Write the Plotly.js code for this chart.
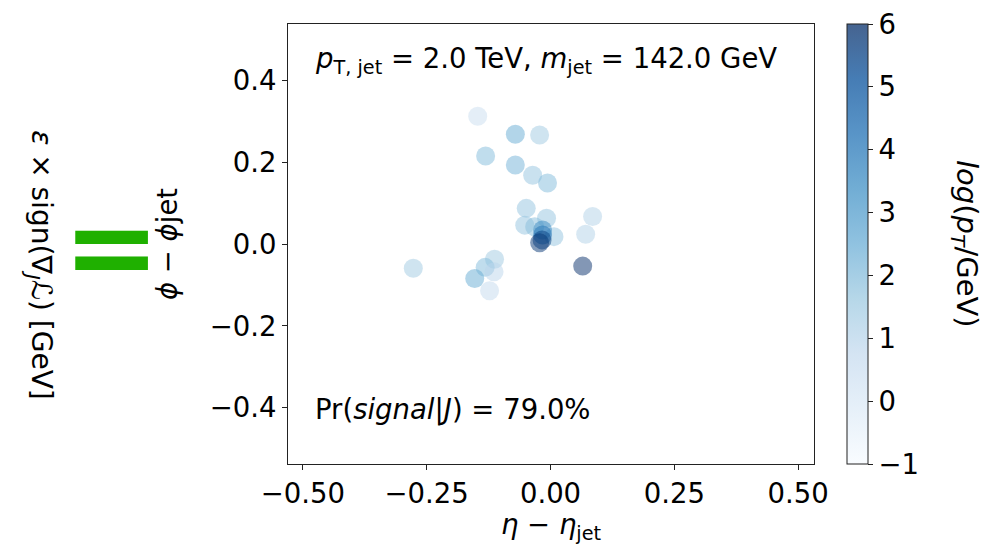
<!DOCTYPE html>
<html>
<head>
<meta charset="utf-8">
<script src="https://cdn.plot.ly/plotly-3.0.1.min.js"></script>
<style>html,body{margin:0;padding:0;background:#fff;}#chart{width:993px;height:545px;}</style>
</head>
<body>
<div id="chart"></div>
<script>
// Constituent positions relative to jet axis and their log(pT/GeV)
const etaRel = [-0.147, -0.071, -0.022, -0.131, -0.071, -0.036, -0.006, -0.049, 0.085, -0.008, -0.052, -0.032, 0.071, 0.007, -0.016, -0.016, -0.017, -0.022, 0.065, -0.277, -0.113, -0.132, -0.114, -0.153, -0.123];
const phiRel = [0.312, 0.268, 0.266, 0.215, 0.193, 0.168, 0.149, 0.087, 0.067, 0.063, 0.046, 0.042, 0.024, 0.018, 0.034, 0.022, 0.010, 0.003, -0.054, -0.059, -0.037, -0.057, -0.068, -0.084, -0.114];
const logPt  = [0.6, 2.6, 1.6, 2.1, 2.4, 1.8, 2.1, 1.8, 1.2, 1.8, 1.8, 2.0, 1.2, 1.8, 3.6, 4.2, 5.6, 5.8, 6.0, 1.6, 1.6, 2.1, 1.0, 2.6, 0.8];
const xTicks = [-0.5, -0.25, 0, 0.25, 0.5];
const yTicks = [-0.4, -0.2, 0, 0.2, 0.4];
const cbTicks = [-1, 0, 1, 2, 3, 4, 5, 6];

const blues = ['#f7fbff','#deebf7','#c6dbef','#9ecae1','#6baed6','#4292c6','#2171b5','#08519c','#08306b'];
function hexA(h, a){const r=parseInt(h.slice(1,3),16),g=parseInt(h.slice(3,5),16),b=parseInt(h.slice(5,7),16);return `rgba(${r},${g},${b},${a})`;}
function scale(a){return blues.map((c,i)=>[i/(blues.length-1), hexA(c,a)]);}

const FONT = 'DejaVu Sans, Liberation Sans, sans-serif';
const FS = 27.5;
const dark = '#222';

const traces = [
  {
    type: 'scatter', mode: 'markers', x: etaRel, y: phiRel,
    marker: {size: 19, color: logPt, cmin: -1, cmax: 6, colorscale: scale(0.5), showscale: false, line: {width: 0}},
    hoverinfo: 'x+y', showlegend: false
  },
  {
    type: 'scatter', mode: 'markers', x: [null], y: [null],
    marker: {size: 1, color: [0], cmin: -1, cmax: 6, colorscale: scale(0.75), showscale: true,
      colorbar: {x: 1.0627, xanchor: 'left', xpad: 0, ypad: 0, y: 0.5, yanchor: 'middle', len: 1, lenmode: 'fraction',
        thickness: 21, outlinewidth: 1, outlinecolor: dark, ticks: 'outside', ticklen: 5, tickwidth: 1, tickcolor: dark,
        tickvals: cbTicks, tickfont: {family: FONT, size: FS, color: '#000'}}},
    hoverinfo: 'skip', showlegend: false
  }
];

const layout = {
  width: 993, height: 545,
  margin: {l: 288, r: 179, t: 24, b: 81},
  paper_bgcolor: '#fff', plot_bgcolor: '#fff',
  font: {family: FONT, size: FS, color: '#000'},
  xaxis: {range: [-0.53, 0.532], tickvals: xTicks, tickformat: '.2f', ticks: 'outside', ticklen: 5, tickwidth: 1, tickcolor: dark,
    showgrid: false, zeroline: false, showline: true, linecolor: dark, linewidth: 1, mirror: true,
    tickfont: {family: FONT, size: FS},
    title: {text: '<i>η</i> − <i>η</i><sub>jet</sub>', font: {family: FONT, size: FS}, standoff: 3}},
  yaxis: {range: [-0.537, 0.537], tickvals: yTicks, tickformat: '.1f', ticks: 'outside', ticklen: 5, tickwidth: 1, tickcolor: dark,
    showgrid: false, zeroline: false, showline: true, linecolor: dark, linewidth: 1, mirror: true,
    tickfont: {family: FONT, size: FS},
    title: {text: '<i>ϕ</i> − <i>ϕ</i>jet', font: {family: FONT, size: FS}, standoff: 24}},
  annotations: [
    {xref: 'paper', yref: 'paper', x: 0.0475, y: 0.918, xanchor: 'left', yanchor: 'middle', showarrow: false,
      text: '<i>p</i><sub>T, jet</sub> = 2.0 TeV, <i>m</i><sub>jet</sub> = 142.0 GeV', font: {family: FONT, size: FS}},
    {xref: 'paper', yref: 'paper', x: 0.0475, y: 0.123, xanchor: 'left', yanchor: 'middle', showarrow: false,
      text: 'Pr(<i>signal</i>|<i>J</i>) = 79.0%', font: {family: FONT, size: FS}},
    {xref: 'paper', yref: 'paper', x: 1.287, y: 0.5, xanchor: 'center', yanchor: 'middle', showarrow: false, textangle: 90,
      text: '<i>log</i>(<i>p</i><sub><i>T</i></sub>/GeV)', font: {family: FONT, size: 29}},
    {xref: 'paper', yref: 'paper', x: -0.4715, y: 0.452, xanchor: 'center', yanchor: 'middle', showarrow: false, textangle: 90,
      text: '<i>ε</i> × sign(∇<sub><i>J</i></sub><i>ℒ</i>) [GeV]', font: {family: FONT, size: 28}},
    {xref: 'paper', yref: 'paper', x: -0.3365, y: 0.495, xanchor: 'center', yanchor: 'middle', showarrow: false,
      text: '<b>=</b>', font: {family: FONT, size: 116, color: '#1fb000'}}
  ]
};

Plotly.newPlot('chart', traces, layout, {displayModeBar: false, staticPlot: true});
</script>
</body>
</html>
